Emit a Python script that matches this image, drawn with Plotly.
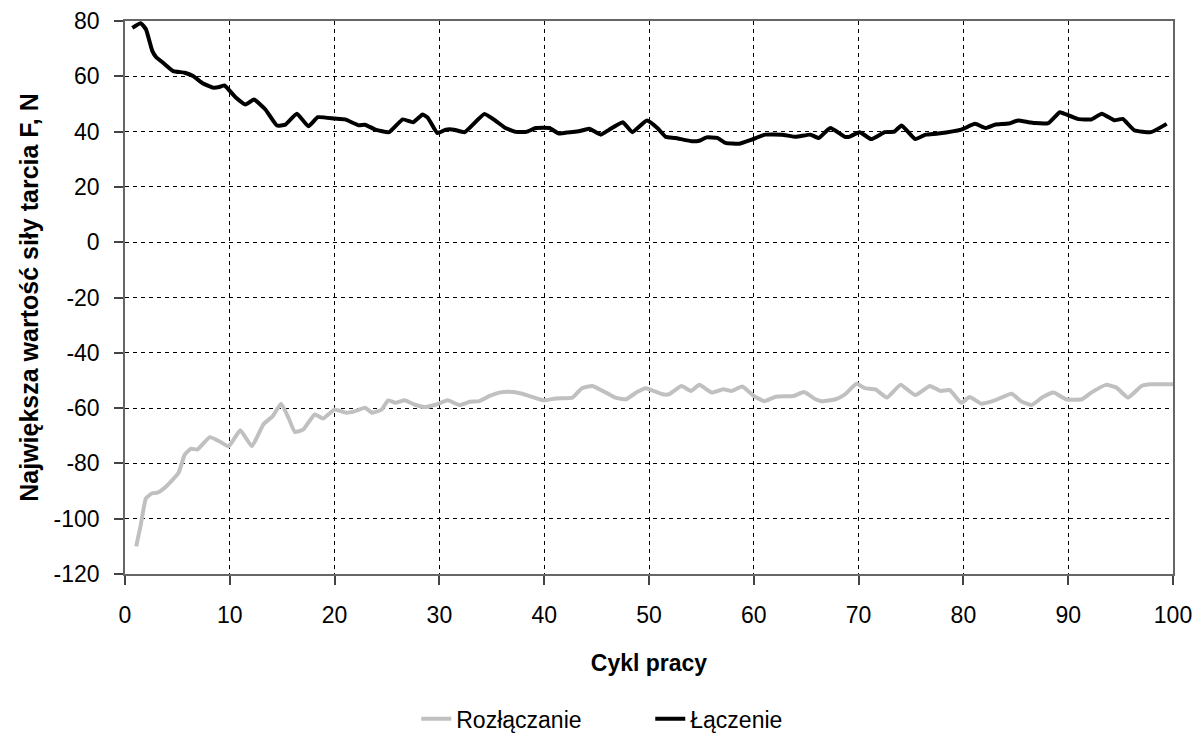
import plotly.graph_objects as go

# Łączenie (black)
cycle_laczenie = [0.7, 1.5, 2.0, 2.6, 3.0, 3.6, 4.6, 5.7, 6.5, 7.4, 8.4, 9.0, 9.5, 10.0, 10.6, 11.5, 12.3, 13.4,
                  14.5, 15.3, 16.4, 17.5, 18.4, 20.0, 21.0, 22.3, 22.9, 23.9, 25.2, 26.5, 27.5, 28.4, 28.9, 29.8,
                  30.6, 31.4, 32.4, 34.3, 35.4, 36.3, 37.3, 38.3, 39.2, 40.5, 41.4, 42.4, 43.3, 44.3, 45.4, 46.2,
                  47.5, 48.4, 49.8, 50.8, 51.6, 52.5, 54.1, 54.8, 55.5, 56.5, 57.3, 58.6, 59.8, 61.1, 62.7, 64.0,
                  65.4, 66.2, 67.3, 68.7, 69.1, 70.1, 71.2, 72.5, 73.4, 74.1, 75.4, 76.4, 77.6, 79.8, 81.1, 82.1,
                  83.0, 84.3, 85.2, 86.2, 86.8, 88.1, 89.2, 89.8, 90.9, 92.2, 93.2, 94.4, 95.2, 96.3, 97.9, 99.4]
force_laczenie = [77.5, 79.2, 77.0, 69.2, 66.8, 65.0, 61.9, 61.3, 60.1, 57.5, 55.9, 56.1, 56.7, 54.7, 52.2, 49.8, 51.6, 48.0,
                  42.2, 42.5, 46.5, 41.9, 45.2, 44.7, 44.4, 42.3, 42.5, 40.7, 39.8, 44.4, 43.4, 46.2, 45.0, 39.5,
                  40.7, 40.7, 39.8, 46.4, 43.8, 41.3, 39.9, 39.9, 41.3, 41.3, 39.3, 39.8, 40.1, 41.0, 38.9, 40.7,
                  43.4, 39.8, 44.0, 41.3, 38.1, 37.7, 36.5, 36.7, 37.9, 37.7, 35.9, 35.6, 37.1, 38.9, 38.9, 38.1,
                  38.9, 37.7, 41.3, 38.1, 38.1, 39.8, 37.3, 39.8, 40.0, 42.2, 37.3, 38.9, 39.3, 40.7, 42.8, 41.3,
                  42.5, 42.9, 44.0, 43.4, 43.1, 43.1, 47.0, 46.2, 44.6, 44.4, 46.5, 44.1, 44.6, 40.5, 39.8, 42.8]

# Rozłączanie (grey)
cycle_rozlaczanie = [1.07, 1.5, 2.0, 2.6, 3.1, 3.9, 5.1, 5.7, 6.3, 6.9, 8.1, 9.0, 9.9, 11.0, 12.1, 13.2, 14.1, 14.9,
                     15.6, 16.2, 17.0, 18.1, 18.9, 20.0, 21.1, 21.9, 22.9, 23.6, 24.5, 25.1, 25.8, 26.7, 27.6, 28.6,
                     29.7, 30.8, 31.9, 32.9, 33.8, 34.8, 35.7, 36.7, 37.9, 38.9, 40.0, 41.1, 42.7, 43.6, 44.6, 45.9,
                     46.8, 47.8, 48.9, 49.7, 51.3, 51.9, 53.1, 54.0, 54.8, 56.0, 57.1, 57.9, 58.9, 60.0, 61.0, 62.1,
                     63.8, 64.8, 65.9, 66.5, 67.8, 68.7, 69.8, 70.6, 71.6, 72.7, 74.0, 75.4, 76.8, 77.8, 78.7, 79.8,
                     80.6, 81.7, 83.0, 84.6, 85.5, 86.5, 87.5, 88.6, 89.8, 91.3, 92.2, 93.6, 94.6, 95.7, 97.0, 97.9,
                     100.0]
force_rozlaczanie = [-110.0, -102.3, -92.6, -90.8, -90.6, -88.4, -83.5, -76.8, -74.7, -75.0, -70.5, -72.0, -73.8, -68.0,
                     -73.8, -65.9, -62.9, -58.4, -63.5, -68.6, -67.8, -62.3, -63.8, -60.5, -61.7, -61.2, -59.9, -61.7,
                     -60.5, -57.2, -58.1, -57.2, -58.7, -59.6, -58.7, -57.2, -58.9, -57.7, -57.5, -55.6, -54.4, -54.1,
                     -54.8, -56.0, -57.2, -56.5, -56.2, -52.8, -52.0, -54.4, -56.2, -56.8, -54.1, -52.8, -55.0, -55.0,
                     -52.0, -53.8, -51.6, -54.4, -53.2, -53.8, -52.2, -55.6, -57.5, -55.9, -55.6, -54.2, -56.8, -57.5,
                     -56.8, -55.0, -51.2, -52.8, -53.2, -56.2, -51.6, -55.3, -52.0, -53.8, -53.5, -58.1, -56.0, -58.4,
                     -57.2, -54.8, -57.5, -58.9, -56.2, -54.4, -56.8, -56.8, -54.4, -51.6, -52.6, -56.2, -52.0, -51.4,
                     -51.4]

x_ticks = list(range(0, 101, 10))
y_ticks = list(range(-120, 81, 20))
y_tick_labels = [str(v) for v in y_ticks]

FONT = "Liberation Sans, Arial, sans-serif"

fig = go.Figure()
fig.add_trace(go.Scatter(x=cycle_rozlaczanie, y=force_rozlaczanie, mode="lines", name="Rozłączanie",
                         line=dict(color="#c0c0c0", width=4, shape="spline", smoothing=0.4)))
fig.add_trace(go.Scatter(x=cycle_laczenie, y=force_laczenie, mode="lines", name="Łączenie",
                         line=dict(color="#000000", width=4, shape="spline", smoothing=0.4)))

axis_common = dict(
    showline=True, linecolor="#666666", linewidth=1.5, mirror=True,
    showgrid=True, gridcolor="#000000", gridwidth=1, griddash="4px,4px",
    zeroline=False, ticks="outside", ticklen=9, tickcolor="#444444", tickwidth=1.5,
    tickfont=dict(family=FONT, size=23, color="#000000"),
)

fig.update_xaxes(range=[0, 100], tickvals=x_ticks, ticklabelstandoff=11,
                 title=dict(text="<b>Cykl pracy</b>", font=dict(family=FONT, size=23, color="#000000"), standoff=28),
                 **axis_common)
fig.update_yaxes(range=[-120, 80], tickvals=y_ticks, ticktext=y_tick_labels, ticklabelstandoff=10,
                 title=dict(text="<b>Największa wartość siły tarcia F, N</b>",
                            font=dict(family=FONT, size=25, color="#000000"), standoff=8),
                 **axis_common)

fig.update_layout(
    width=1196, height=725,
    margin=dict(l=117, r=31, t=13, b=159, autoexpand=False),
    paper_bgcolor="white", plot_bgcolor="white",
    showlegend=True,
    legend=dict(orientation="h", x=0.5012, xanchor="center", y=-0.262, yanchor="middle",
                font=dict(family=FONT, size=23, color="#000000"), itemwidth=30,
                entrywidth=189, entrywidthmode="pixels"),
    font=dict(family=FONT),
)

fig.write_html("out.html")
